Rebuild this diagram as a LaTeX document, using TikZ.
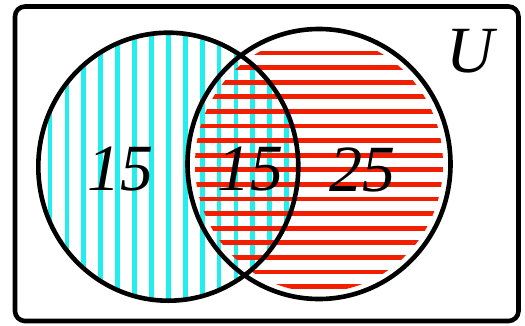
\documentclass[tikz,border=0pt]{standalone}
\usepackage{fontspec}
\setmainfont{Liberation Serif}
\usepackage{tikz}
\usetikzlibrary{positioning}
\definecolor{VennCyan}{HTML}{22EEEE}
\definecolor{VennRed}{HTML}{F21E00}

\begin{document}
\begin{tikzpicture}[x=1pt,y=-1pt,
 rim/.style={line width=4.6pt,draw=black},
 vstripe/.style={line width=4.8pt,draw=VennCyan},
 hstripe/.style={line width=4.7pt,draw=VennRed},
 every node/.style={font=\itshape\fontsize{66}{66}\selectfont,inner sep=0pt}]
\useasboundingbox (0,0) rectangle (525,325);
\coordinate (A) at (168.3,166.7);
\coordinate (B) at (319,164);
% stripes, clipped to each set
\begin{scope}
 \clip (A) ellipse[x radius=130,y radius=134];
 \foreach \i in {0,...,14}
  \draw[vstripe] (50+16.9*\i,20) -- ++(0,300);
\end{scope}
\begin{scope}
 \clip (B) ellipse[x radius=124,y radius=128];
 \foreach \i in {0,...,16}
  \draw[hstripe] (170,53+14.6*\i) -- ++(300,0);
\end{scope}
% outlines
\draw[rim,rounded corners=10pt] (15,6.5) rectangle (518.5,321);
\draw[rim] (A) ellipse[x radius=130,y radius=134];
\draw[rim] (B) ellipse[x radius=131.5,y radius=135];
\node (onlyA) at (120,169.5) {15};
\node (both) at (250,169.5) {15};
\node (onlyB) at (362.5,169.5) {25};
\node (univ) at (470,51.5) {U};
\end{tikzpicture}
\end{document}
